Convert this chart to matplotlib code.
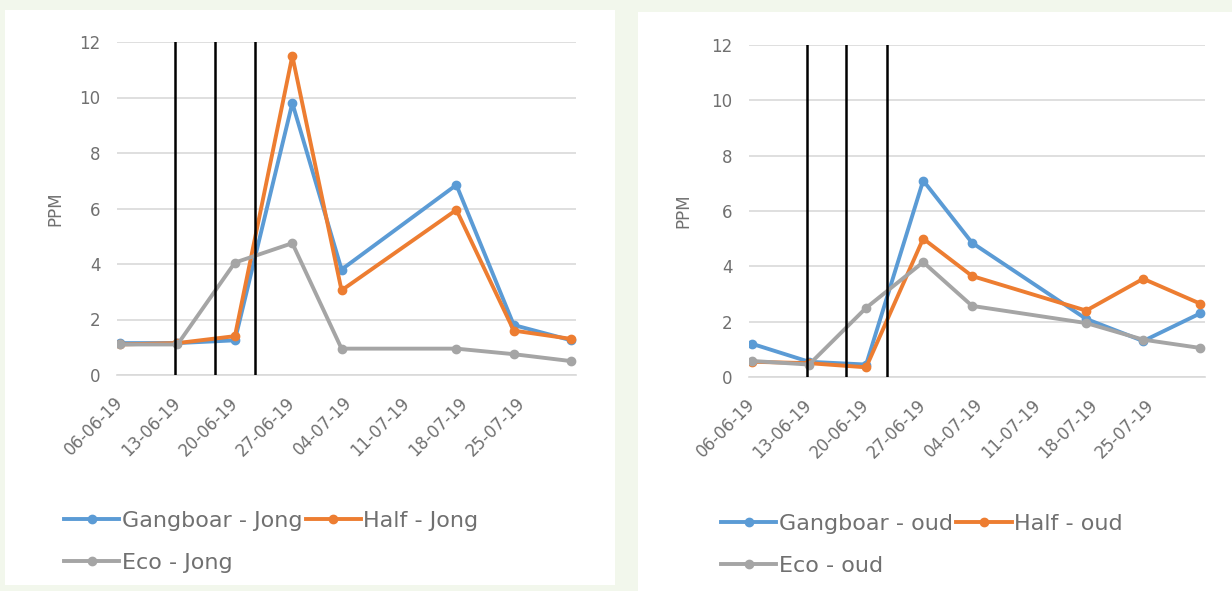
import numpy as np
import matplotlib
matplotlib.use("Agg")
import matplotlib.pyplot as plt
import matplotlib.dates as mdates
from matplotlib.patches import Rectangle

# sample dates (same for both panels)
dates = np.array(["2019-06-06", "2019-06-13", "2019-06-20", "2019-06-27",
                  "2019-07-03", "2019-07-17", "2019-07-24", "2019-07-31"], dtype="datetime64[D]")
tick_dates = np.array(["2019-06-06", "2019-06-13", "2019-06-20", "2019-06-27",
                       "2019-07-04", "2019-07-11", "2019-07-18", "2019-07-25"], dtype="datetime64[D]")
event_dates = np.array(["2019-06-12T17:00", "2019-06-17T14:00", "2019-06-22T12:00"], dtype="datetime64[m]")

# young (Jong)
gangboar_jong = [1.15, 1.15, 1.25, 9.8, 3.8, 6.85, 1.8, 1.25]
half_jong = [1.1, 1.15, 1.4, 11.5, 3.05, 5.95, 1.6, 1.3]
eco_jong = [1.1, 1.1, 4.05, 4.75, 0.95, 0.95, 0.75, 0.5]

# old (oud)
gangboar_oud = [1.2, 0.55, 0.45, 7.1, 4.85, 2.1, 1.3, 2.3]
half_oud = [0.55, 0.5, 0.35, 5.0, 3.65, 2.4, 3.55, 2.65]
eco_oud = [0.58, 0.45, 2.5, 4.15, 2.57, 1.95, 1.35, 1.05]

BLUE = "#5B9BD5"
ORANGE = "#ED7D31"
GREY = "#A5A5A5"
TXT = "#707070"

plt.rcParams["font.family"] = ["DejaVu Sans"]

fig = plt.figure(figsize=(12.32, 5.91), dpi=100)
fig.patch.set_facecolor("#f2f7ec")

# white chart panels (behind the axes)
fig.patches.append(Rectangle((5 / 1232, 6 / 591), 610 / 1232, 575 / 591,
                             transform=fig.transFigure, facecolor="white", edgecolor="none", zorder=-10))
fig.patches.append(Rectangle((638 / 1232, 0), 594 / 1232, 579 / 591,
                             transform=fig.transFigure, facecolor="white", edgecolor="none", zorder=-10))


def draw_panel(rect, series, labels, leg_anchor, ylab_x):
    ax = fig.add_axes(rect)
    ax.set_facecolor("none")
    for vals, lab, col in zip(series, labels, [BLUE, ORANGE, GREY]):
        ax.plot(dates, vals, color=col, lw=2.8, marker="o", ms=6, label=lab, zorder=3)
    for d in event_dates:
        ax.axvline(d, color="black", lw=1.8, zorder=4)

    ax.set_ylim(0, 12)
    ax.set_yticks(range(0, 13, 2))
    ax.set_xlim(dates[0] - np.timedelta64(9, "h"), dates[-1] + np.timedelta64(14, "h"))
    ax.set_xticks(tick_dates)
    ax.xaxis.set_major_formatter(mdates.DateFormatter("%d-%m-%y"))

    ax.grid(axis="y", color="#d9d9d9", lw=1.2)
    ax.set_axisbelow(True)
    for s in ["top", "right", "left"]:
        ax.spines[s].set_visible(False)
    ax.spines["bottom"].set_color("#d9d9d9")
    ax.spines["bottom"].set_linewidth(1.2)
    ax.tick_params(axis="both", length=0, colors=TXT, labelsize=12)
    ax.tick_params(axis="y", pad=12)
    ax.tick_params(axis="x", pad=18)
    for t in ax.get_xticklabels():
        t.set_rotation(45)
        t.set_ha("right")
        t.set_va("center")
        t.set_rotation_mode("anchor")

    ax.set_ylabel("PPM", color=TXT, fontsize=12)
    ax.yaxis.set_label_coords(ylab_x, 0.5)

    h, l = ax.get_legend_handles_labels()
    order = [0, 2, 1]
    fig.legend([h[i] for i in order], [l[i] for i in order], ncol=2,
               loc="upper left", bbox_to_anchor=leg_anchor, frameon=False,
               fontsize=16, labelcolor=TXT, handlelength=2.5, handletextpad=0.1,
               columnspacing=0.15, labelspacing=1.0, borderaxespad=0)
    return ax


draw_panel([117 / 1232, 216 / 591, 459 / 1232, 333 / 591],
           [gangboar_jong, half_jong, eco_jong],
           ["Gangboar - Jong", "Half - Jong", "Eco - Jong"],
           (55 / 1232, 1 - 502 / 591), -0.115)

draw_panel([749 / 1232, 214 / 591, 456 / 1232, 332 / 591],
           [gangboar_oud, half_oud, eco_oud],
           ["Gangboar - oud", "Half - oud", "Eco - oud"],
           (712 / 1232, 1 - 505 / 591), -0.125)

fig.savefig("out.png", dpi=100, facecolor=fig.get_facecolor())
